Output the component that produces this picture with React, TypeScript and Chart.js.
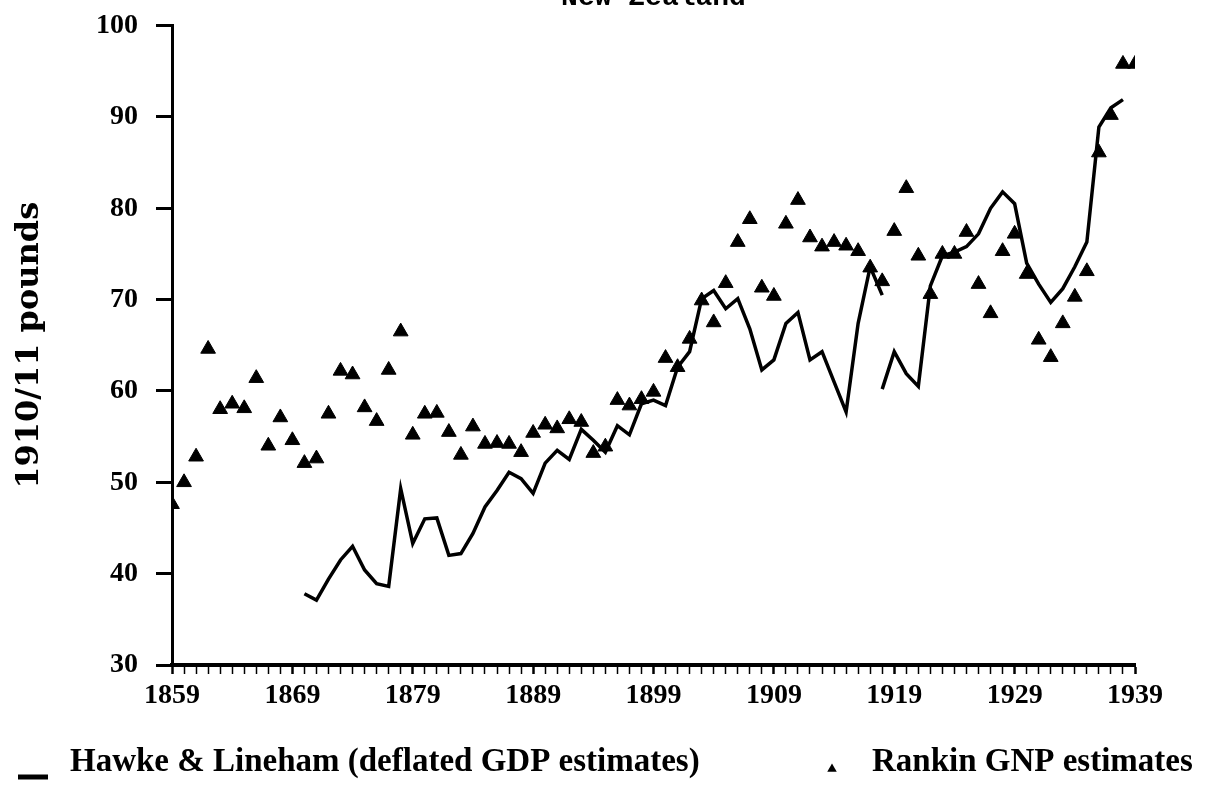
import React, { useEffect, useRef } from "react";
import { Chart, registerables } from "chart.js";

Chart.register(...registerables);

// ---- data ----
const rankinYears = [
  1859, 1860, 1861, 1862, 1863, 1864, 1865, 1866, 1867, 1868, 1869, 1870, 1871, 1872, 1873, 1874,
  1875, 1876, 1877, 1878, 1879, 1880, 1881, 1882, 1883, 1884, 1885, 1886, 1887, 1888, 1889, 1890,
  1891, 1892, 1893, 1894, 1895, 1896, 1897, 1898, 1899, 1900, 1901, 1902, 1903, 1904, 1905, 1906,
  1907, 1908, 1909, 1910, 1911, 1912, 1913, 1914, 1915, 1916, 1917, 1918, 1919, 1920, 1921, 1922,
  1923, 1924, 1925, 1926, 1927, 1928, 1929, 1930, 1931, 1932, 1933, 1934, 1935, 1936, 1937, 1938,
  1939,
];
const rankinGnp = [
  47.6, 50.0, 52.8, 64.6, 58.0, 58.6, 58.1, 61.4, 54.0, 57.1, 54.6, 52.1, 52.6, 57.5, 62.2, 61.8,
  58.2, 56.7, 62.3, 66.5, 55.2, 57.5, 57.6, 55.5, 53.0, 56.1, 54.2, 54.3, 54.2, 53.3, 55.4, 56.3,
  55.9, 56.9, 56.6, 53.2, 53.9, 59.0, 58.4, 59.1, 59.9, 63.6, 62.6, 65.7, 69.9, 67.5, 71.8, 76.3,
  78.8, 71.3, 70.4, 78.3, 80.9, 76.8, 75.8, 76.3, 75.9, 75.3, 73.5, 72.0, 77.5, 82.2, 74.8, 70.6,
  75.0, 75.0, 77.4, 71.7, 68.5, 75.3, 77.2, 72.8, 65.6, 63.7, 67.4, 70.3, 73.1, 86.1, 90.2, 95.8,
  95.8,
];

const hlYearsA = [
  1870, 1871, 1872, 1873, 1874, 1875, 1876, 1877, 1878, 1879, 1880, 1881, 1882, 1883, 1884, 1885,
  1886, 1887, 1888, 1889, 1890, 1891, 1892, 1893, 1894, 1895, 1896, 1897, 1898, 1899, 1900, 1901,
  1902, 1903, 1904, 1905, 1906, 1907, 1908, 1909, 1910, 1911, 1912, 1913, 1914, 1915, 1916, 1917,
  1918,
];
const hlValuesA = [
  37.8, 37.1, 39.4, 41.5, 43.0, 40.4, 38.9, 38.6, 49.3, 43.3, 46.0, 46.1, 42.0, 42.2, 44.4, 47.3,
  49.1, 51.1, 50.4, 48.8, 52.1, 53.5, 52.5, 55.8, 54.6, 53.3, 56.2, 55.2, 58.6, 59.0, 58.4, 62.6,
  64.3, 70.1, 71.0, 69.0, 70.1, 66.8, 62.3, 63.4, 67.4, 68.6, 63.4, 64.3, 61.0, 57.7, 67.4, 73.6,
  70.5,
];

const hlYearsB = [
  1918, 1919, 1920, 1921, 1922, 1923, 1924, 1925, 1926, 1927, 1928, 1929, 1930, 1931, 1932, 1933,
  1934, 1935, 1936, 1937, 1938,
];
const hlValuesB = [
  60.2, 64.3, 61.9, 60.5, 71.5, 74.8, 75.2, 75.8, 77.2, 80.0, 81.8, 80.5, 74.0, 71.7, 69.7, 71.2,
  73.6, 76.3, 88.9, 91.0, 91.9,
];

const xTickYears = [1859, 1869, 1879, 1889, 1899, 1909, 1919, 1929, 1939];
const yTickValues = [30, 40, 50, 60, 70, 80, 90, 100];

const titleText = "New Zealand";
const yAxisTitle = "1910/11 pounds";
const hlLabel = "Hawke & Lineham (deflated GDP estimates)";
const rankinLabel = "Rankin GNP estimates";

const TICK_FONT = "'Liberation Serif', 'Times New Roman', serif";

export default function App() {
  const canvasRef = useRef<HTMLCanvasElement | null>(null);

  useEffect(() => {
    document.body.style.margin = "0";
    const canvas = canvasRef.current;
    if (!canvas) return;

    const bottomLegend = {
      id: "bottomLegend",
      afterDraw(chart: any) {
        const c = chart.ctx as CanvasRenderingContext2D;
        const dsLine = chart.data.datasets[0];
        const dsTri = chart.data.datasets[2];
        c.save();
        c.fillStyle = "#000";
        c.font = `bold 33px ${TICK_FONT}`;
        c.textBaseline = "alphabetic";
        c.textAlign = "left";
        const base = 771;
        // line symbol
        c.strokeStyle = dsLine.borderColor;
        c.lineWidth = 5;
        c.beginPath();
        c.moveTo(18, base + 6);
        c.lineTo(48, base + 6);
        c.stroke();
        c.fillText(dsLine.label, 70, base);
        // triangle symbol
        const tx = 832;
        const ty = base - 2;
        const r = 5.5;
        c.fillStyle = dsTri.backgroundColor;
        c.beginPath();
        c.moveTo(tx, ty - r);
        c.lineTo(tx + r * 0.866, ty + r / 2);
        c.lineTo(tx - r * 0.866, ty + r / 2);
        c.closePath();
        c.fill();
        c.fillStyle = "#000";
        c.fillText(dsTri.label, 872, base);
        c.restore();
      },
    };

    const chart = new Chart(canvas, {
      type: "line",
      data: {
        datasets: [
          {
            label: hlLabel,
            data: hlYearsA.map((x, i) => ({ x, y: hlValuesA[i] })),
            borderColor: "#000",
            backgroundColor: "#000",
            borderWidth: 3.5,
            pointRadius: 0,
            tension: 0,
            fill: false,
          },
          {
            label: hlLabel + " (1918 rebase)",
            data: hlYearsB.map((x, i) => ({ x, y: hlValuesB[i] })),
            borderColor: "#000",
            backgroundColor: "#000",
            borderWidth: 3.5,
            pointRadius: 0,
            tension: 0,
            fill: false,
          },
          {
            label: rankinLabel,
            data: rankinYears.map((x, i) => ({ x, y: rankinGnp[i] })),
            showLine: false,
            pointStyle: "triangle",
            pointRadius: 8.5,
            pointBackgroundColor: "#000",
            pointBorderColor: "#000",
            pointBorderWidth: 1,
            backgroundColor: "#000",
            borderColor: "#000",
          },
        ],
      },
      options: {
        animation: false,
        responsive: true,
        maintainAspectRatio: false,
        layout: { padding: { left: 0, right: 90, top: 0, bottom: 79 } },
        plugins: {
          legend: { display: false },
          tooltip: { enabled: false },
          title: {
            display: true,
            text: titleText,
            fullSize: false,
            color: "#000",
            font: { family: "'Liberation Mono', 'Courier New', monospace", size: 28, weight: "bold", lineHeight: 1.2 },
            padding: { top: -19, bottom: 11 },
          },
        },
        scales: {
          x: {
            type: "linear",
            min: 1859,
            max: 1939,
            afterFit: (s: any) => {
              s.height = 50;
            },
            ticks: {
              stepSize: 1,
              autoSkip: false,
              maxRotation: 0,
              minRotation: 0,
              padding: 5,
              color: "#000",
              font: { family: TICK_FONT, size: 28, weight: "bold" },
              callback: (v: any) => (xTickYears.includes(Math.round(Number(v))) ? String(Math.round(Number(v))) : ""),
            },
            grid: {
              drawOnChartArea: false,
              drawTicks: true,
              tickLength: 9,
              tickColor: "#000",
              tickWidth: (ctx: any) =>
                ctx.tick && xTickYears.includes(Math.round(ctx.tick.value)) ? 2.5 : 1.5,
            },
            border: { display: true, color: "#000", width: 4 },
          },
          y: {
            type: "linear",
            min: 30,
            max: 100,
            afterFit: (s: any) => {
              s.width = 172;
              s.paddingTop = 0;
              s.paddingBottom = 0;
            },
            afterBuildTicks: (s: any) => {
              s.ticks = yTickValues.map((v) => ({ value: v }));
            },
            ticks: {
              stepSize: 10,
              padding: 18,
              color: "#000",
              font: { family: TICK_FONT, size: 28, weight: "bold" },
            },
            grid: {
              drawOnChartArea: false,
              drawTicks: true,
              tickLength: 16,
              tickColor: "#000",
              tickWidth: 3,
            },
            border: { display: true, color: "#000", width: 3 },
            title: {
              display: true,
              text: yAxisTitle,
              color: "#000",
              font: { family: "'DejaVu Serif', serif", size: 32, weight: "bold", lineHeight: 1.2 },
              padding: { top: 10, bottom: 0 },
            },
          },
        },
      },
      plugins: [bottomLegend],
    } as any);

    return () => chart.destroy();
  }, []);

  return (
    <div style={{ width: 1225, height: 794, position: "relative", background: "#fff" }}>
      <canvas ref={canvasRef} />
    </div>
  );
}
